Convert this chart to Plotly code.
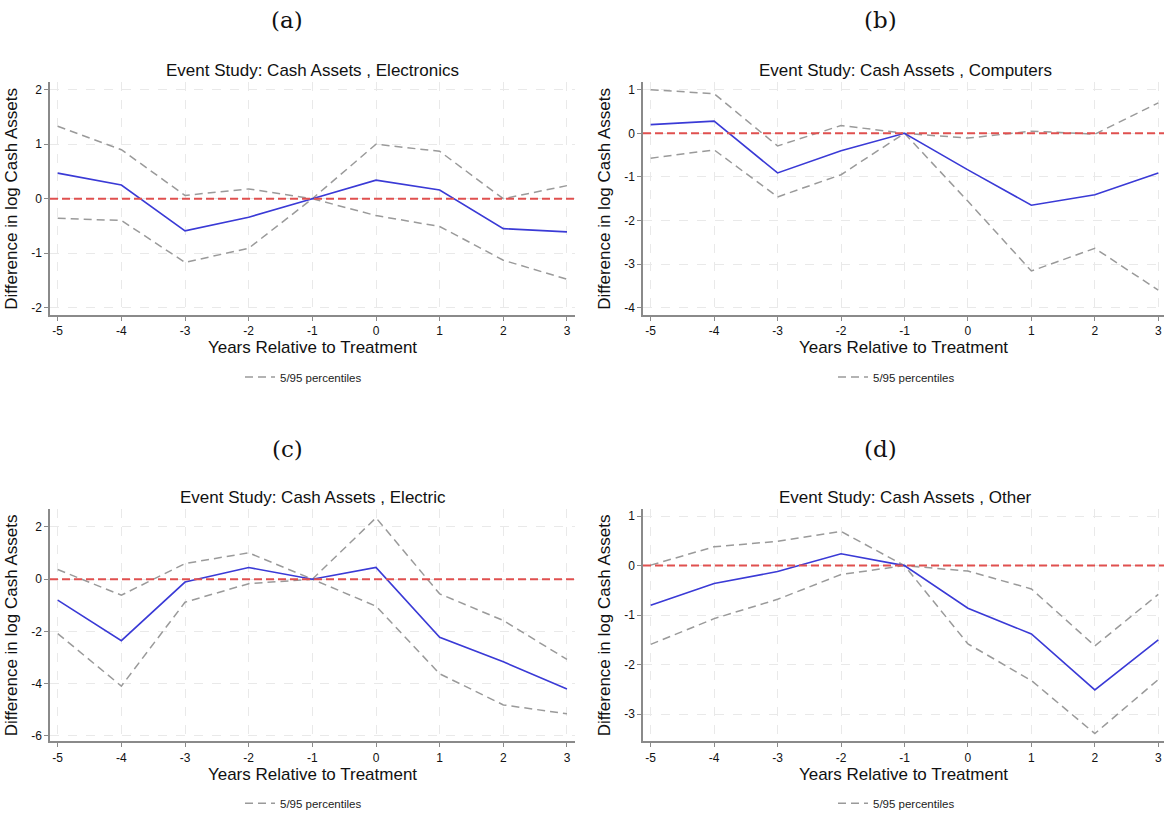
import plotly.graph_objects as go

W, H = 1164, 818

years = [-5, -4, -3, -2, -1, 0, 1, 2, 3]
year_labels = ["-5", "-4", "-3", "-2", "-1", "0", "1", "2", "3"]

panel_letters = ["(a)", "(b)", "(c)", "(d)"]
industries = ["Electronics", "Computers", "Electric", "Other"]

a_est = [0.47, 0.25, -0.59, -0.34, 0, 0.34, 0.16, -0.55, -0.61]
a_hi = [1.33, 0.90, 0.06, 0.18, 0, 1.00, 0.87, 0.00, 0.24]
a_lo = [-0.36, -0.40, -1.17, -0.91, 0, -0.31, -0.51, -1.13, -1.48]

b_est = [0.20, 0.28, -0.91, -0.40, 0, -0.84, -1.65, -1.41, -0.91]
b_hi = [1.00, 0.91, -0.29, 0.18, 0, -0.11, 0.05, -0.02, 0.70]
b_lo = [-0.57, -0.38, -1.46, -0.95, 0, -1.56, -3.16, -2.64, -3.60]

c_est = [-0.80, -2.35, -0.11, 0.45, 0, 0.45, -2.22, -3.16, -4.20]
c_hi = [0.37, -0.61, 0.60, 1.01, 0, 2.35, -0.56, -1.58, -3.07]
c_lo = [-2.08, -4.09, -0.88, -0.17, 0, -1.03, -3.62, -4.81, -5.15]

d_est = [-0.80, -0.36, -0.12, 0.24, 0, -0.86, -1.38, -2.51, -1.50]
d_hi = [0.01, 0.38, 0.49, 0.69, 0, -0.11, -0.47, -1.62, -0.58]
d_lo = [-1.59, -1.07, -0.68, -0.18, 0, -1.58, -2.32, -3.39, -2.30]

a_yticks = [-2, -1, 0, 1, 2]
b_yticks = [-4, -3, -2, -1, 0, 1]
c_yticks = [-6, -4, -2, 0, 2]
d_yticks = [-3, -2, -1, 0, 1]

estimates = [a_est, b_est, c_est, d_est]
uppers = [a_hi, b_hi, c_hi, d_hi]
lowers = [a_lo, b_lo, c_lo, d_lo]
yticks = [a_yticks, b_yticks, c_yticks, d_yticks]
yranges = [[-2.14, 2.134], [-4.176, 1.167], [-6.21, 2.67], [-3.55, 1.134]]

# reference pixel geometry of the four plot areas: (left, right, top, bottom)
boxes = [(50, 575, 82.7, 316), (643, 1164, 82.7, 316),
         (50, 575, 510.7, 743.3), (643, 1164, 510.7, 743.3)]
xranges = [[-5.121, 3.126], [-5.121, 3.09], [-5.121, 3.126], [-5.121, 3.09]]


def px(xp):
    return xp / W


def py(yp):
    return 1 - yp / H


FONT = "Liberation Sans, Arial, Helvetica, sans-serif"
BLUE = "#3a3ad6"
GRAY = "#9a9a9a"
RED = "#e0504f"
AXIS = "#8a8a8a"

fig = go.Figure()
layout = dict(width=W, height=H, margin=dict(l=0, r=0, t=0, b=0),
              paper_bgcolor="white", plot_bgcolor="white",
              font=dict(family=FONT, color="#111111"),
              annotations=[], shapes=[])

for i in range(4):
    n = "" if i == 0 else str(i + 1)
    xa, ya = "x" + n, "y" + n
    leg = "legend" + n
    l, r, t, b = boxes[i]
    fig.add_trace(go.Scatter(x=years, y=uppers[i], mode="lines", xaxis=xa, yaxis=ya,
                             line=dict(color=GRAY, width=1.5, dash="8px,5px"),
                             name="5/95 percentiles", legend=leg, showlegend=True,
                             legendgroup="p" + n))
    fig.add_trace(go.Scatter(x=years, y=lowers[i], mode="lines", xaxis=xa, yaxis=ya,
                             line=dict(color=GRAY, width=1.5, dash="8px,5px"),
                             name="5/95 percentiles", legend=leg, showlegend=False,
                             legendgroup="p" + n))
    fig.add_trace(go.Scatter(x=years, y=estimates[i], mode="lines", xaxis=xa, yaxis=ya,
                             line=dict(color=BLUE, width=1.6), showlegend=False,
                             name="Estimate"))
    common = dict(showline=True, linecolor=AXIS, linewidth=1.5, ticks="outside",
                  ticklen=4, tickcolor=AXIS, tickwidth=1, showgrid=True,
                  gridcolor="#e9e9e9", griddash="dash", gridwidth=1, zeroline=False,
                  tickfont=dict(size=12, color="#111111"), fixedrange=True,
                  ticklabeloverflow="allow")
    layout["xaxis" + n] = dict(domain=[px(l), min(px(r), 1.0)], range=xranges[i], anchor=ya,
                               tickvals=years, ticktext=year_labels,
                               title=dict(text="Years Relative to Treatment",
                                          font=dict(size=17), standoff=3),
                               **common)
    layout["yaxis" + n] = dict(domain=[py(b), py(t)], range=yranges[i], anchor=xa,
                               tickvals=yticks[i], ticktext=[str(v) for v in yticks[i]],
                               title=dict(text="Difference in log Cash Assets",
                                          font=dict(size=17), standoff=9),
                               **common)
    layout[leg] = dict(x=px(l + 190), y=py(b + 62), xanchor="left", yanchor="middle",
                       orientation="h", font=dict(size=11.5, color="#222222"),
                       bgcolor="rgba(0,0,0,0)", itemwidth=30)
    layout["shapes"].append(dict(type="line", xref=xa + " domain", yref=ya,
                                 x0=0, x1=1, y0=0, y1=0, layer="above",
                                 line=dict(color=RED, width=2, dash="8px,4px")))
    layout["annotations"].append(dict(text="Event Study: Cash Assets , " + industries[i],
                                      x=px(l + (575 - 50) / 2), y=py(t - 12),
                                      xref="paper", yref="paper", showarrow=False,
                                      font=dict(size=17, color="#111111"),
                                      xanchor="center", yanchor="middle"))
    layout["annotations"].append(dict(text=panel_letters[i],
                                      x=px(287 if i % 2 == 0 else 880),
                                      y=py(20 if i < 2 else 450),
                                      xref="paper", yref="paper", showarrow=False,
                                      font=dict(size=23, family="DejaVu Serif, serif", color="#111111"),
                                      xanchor="center", yanchor="middle"))

fig.update_layout(**layout)
# remove the browser's default 8px page margin so the figure fills the window exactly
fig.write_html("out.html", config={"displayModeBar": False},
               post_script="document.body.style.margin='0';document.body.style.overflow='hidden';")
